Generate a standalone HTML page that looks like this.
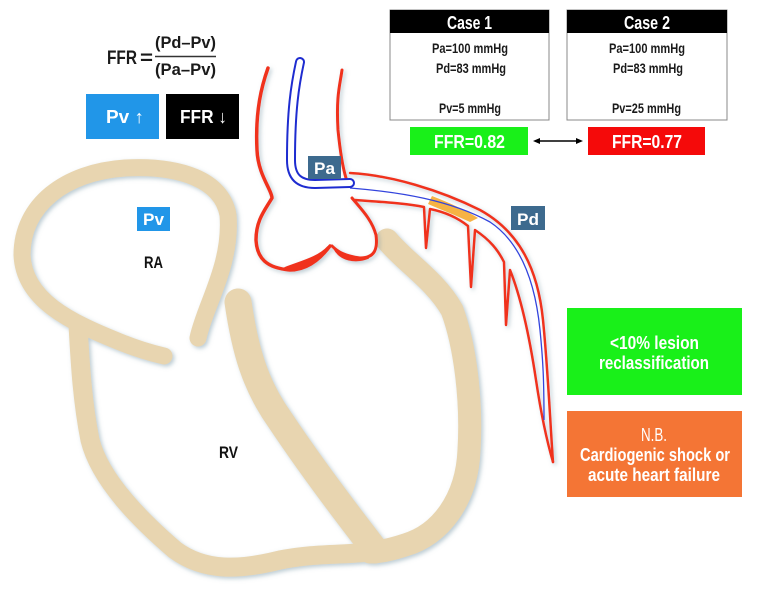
<!DOCTYPE html>
<html><head><meta charset="utf-8"><style>
html,body{margin:0;padding:0;background:#fff;}
svg{display:block;}
text{font-family:"Liberation Sans",sans-serif;font-weight:bold;}
</style></head><body>
<svg width="767" height="593" viewBox="0 0 767 593" xmlns="http://www.w3.org/2000/svg">
<defs>
<filter id="sh" x="-10%" y="-10%" width="120%" height="120%"><feDropShadow dx="2" dy="2" stdDeviation="2" flood-color="#7a9aa8" flood-opacity="0.5"/></filter>
</defs>
<g fill="none" stroke="#e8d5b0" stroke-linecap="round" filter="url(#sh)">
<path d="M198,338 C205,305 232,265 228,215 C222,180 180,165 125,168 C65,172 22,205 22,255 C24,300 70,322 120,342 C140,350 155,354 164,356" stroke-width="17"/>
<path d="M78,325 C80,360 82,400 90,440 C100,480 140,520 175,550 C205,572 240,570 280,560 C320,552 350,556 385,550" stroke-width="19"/>
<path d="M238,302 C245,350 255,385 280,420 C310,465 340,505 375,550" stroke-width="27"/>
<path d="M387,240 C405,262 435,280 452,310 C465,345 472,400 469,450 C467,500 440,535 405,545 C390,550 380,552 370,552" stroke-width="23"/>
</g>
<g fill="none" stroke="#f0321e" stroke-linecap="round" stroke-linejoin="round" filter="url(#sh)">
<path d="M268,68 C262,85 255,110 257,150 C258,175 272,190 272,198 C265,210 256,220 256,240 C257,258 266,268 290,270 C305,270 318,262 330,246" stroke-width="3.5"/>
<path d="M342,70 C340,85 336,95 338,130 C340,150 342,165 346,178" stroke-width="3"/>
<path d="M352,198 C362,210 372,220 376,235 C378,250 374,258 360,258 C345,256 338,252 332,246" stroke-width="3"/>
<path d="M285,268 C300,262 318,258 328,247 C320,262 305,268 290,270 Z" fill="#f0321e" stroke-width="2"/>
<path d="M334,248 C340,256 355,258 368,258 C355,263 340,260 334,248 Z" fill="#f0321e" stroke-width="2"/>
<path d="M350,173 C390,175 440,190 480,210 C520,232 538,270 543,320 C548,370 550,420 553,462" stroke-width="2.5"/>
<path d="M355,200 C380,202 405,203 424,207 L426,248 L430,209 C445,212 458,218 468,226 L471,287 L475,230 C490,240 498,250 504,262 L506,325 L510,270 C522,300 530,340 536,380 C542,420 548,445 553,462" stroke-width="2.5"/>
</g>
<path d="M432,196 C450,203 465,210 478,218 L470,222 C455,215 442,210 428,204 Z" fill="#f5a623" opacity="0.85"/>
<path d="M350,188 C400,192 450,200 490,222 C520,242 535,280 540,330 C543,360 544,380 544,420" fill="none" stroke="#3344dd" stroke-width="1.3"/>
<path d="M300,62 C295,85 291,110 291,160 C291,178 300,184 315,184 L350,183" fill="none" stroke="#1e2cd0" stroke-width="10" stroke-linecap="round"/>
<path d="M300,62 C295,85 291,110 291,160 C291,178 300,184 315,184 L350,183" fill="none" stroke="#fff" stroke-width="6" stroke-linecap="round"/>
<text x="107" y="64" font-size="19" fill="#1a1a1a" textLength="30" lengthAdjust="spacingAndGlyphs">FFR</text>
<text x="140" y="64" font-size="19" fill="#1a1a1a" textLength="13" lengthAdjust="spacingAndGlyphs">=</text>
<text x="155" y="48" font-size="17" fill="#1a1a1a" textLength="61" lengthAdjust="spacingAndGlyphs">(Pd–Pv)</text>
<line x1="155" y1="56.5" x2="216" y2="56.5" stroke="#333" stroke-width="1.5"/>
<text x="155" y="75" font-size="17" fill="#1a1a1a" textLength="61" lengthAdjust="spacingAndGlyphs">(Pa–Pv)</text>
<rect x="86" y="94" width="73" height="45" fill="#2196e8"/>
<text x="106" y="123" font-size="18" fill="#fff" textLength="38" lengthAdjust="spacingAndGlyphs">Pv ↑</text>
<rect x="166" y="94" width="73" height="45" fill="#000"/>
<text x="180" y="123" font-size="18" fill="#fff" textLength="47" lengthAdjust="spacingAndGlyphs">FFR ↓</text>
<rect x="390" y="10" width="159" height="110" fill="#fff" stroke="#888"/>
<rect x="390" y="10" width="159" height="23" fill="#000"/>
<text x="447" y="29" font-size="18" fill="#fff" textLength="45" lengthAdjust="spacingAndGlyphs">Case 1</text>
<text x="432" y="53" font-size="14" fill="#1a1a1a" textLength="76" lengthAdjust="spacingAndGlyphs">Pa=100 mmHg</text>
<text x="436" y="73" font-size="14" fill="#1a1a1a" textLength="70" lengthAdjust="spacingAndGlyphs">Pd=83 mmHg</text>
<text x="439" y="113" font-size="14" fill="#1a1a1a" textLength="62" lengthAdjust="spacingAndGlyphs">Pv=5 mmHg</text>
<rect x="567" y="10" width="160" height="110" fill="#fff" stroke="#888"/>
<rect x="567" y="10" width="160" height="23" fill="#000"/>
<text x="624" y="29" font-size="18" fill="#fff" textLength="46" lengthAdjust="spacingAndGlyphs">Case 2</text>
<text x="609" y="53" font-size="14" fill="#1a1a1a" textLength="76" lengthAdjust="spacingAndGlyphs">Pa=100 mmHg</text>
<text x="613" y="73" font-size="14" fill="#1a1a1a" textLength="70" lengthAdjust="spacingAndGlyphs">Pd=83 mmHg</text>
<text x="612" y="113" font-size="14" fill="#1a1a1a" textLength="69" lengthAdjust="spacingAndGlyphs">Pv=25 mmHg</text>
<rect x="410" y="127" width="118" height="28" fill="#19f019"/>
<text x="434" y="148" font-size="18" fill="#fff" textLength="71" lengthAdjust="spacingAndGlyphs">FFR=0.82</text>
<rect x="588" y="127" width="117" height="28" fill="#f50a0a"/>
<text x="612" y="148" font-size="18" fill="#fff" textLength="70" lengthAdjust="spacingAndGlyphs">FFR=0.77</text>
<line x1="538" y1="141" x2="578" y2="141" stroke="#000" stroke-width="1.5"/>
<path d="M533,141 L540,138 L540,144 Z M583,141 L576,138 L576,144 Z" fill="#000"/>
<rect x="308" y="156" width="33" height="23" fill="#3d6a8e"/>
<text x="314" y="174" font-size="17" fill="#fff" textLength="21" lengthAdjust="spacingAndGlyphs">Pa</text>
<rect x="511" y="206" width="34" height="24" fill="#3d6a8e"/>
<text x="517" y="225" font-size="17" fill="#fff" textLength="22" lengthAdjust="spacingAndGlyphs">Pd</text>
<rect x="137" y="207" width="33" height="24" fill="#2196e8"/>
<text x="143" y="225" font-size="17" fill="#fff" textLength="21" lengthAdjust="spacingAndGlyphs">Pv</text>
<text x="144" y="268" font-size="17" fill="#111" textLength="19" lengthAdjust="spacingAndGlyphs">RA</text>
<text x="219" y="458" font-size="17" fill="#111" textLength="19" lengthAdjust="spacingAndGlyphs">RV</text>
<rect x="567" y="308" width="175" height="87" fill="#19f019"/>
<text x="610" y="349" font-size="18" fill="#fff" textLength="89" lengthAdjust="spacingAndGlyphs">&lt;10% lesion</text>
<text x="599" y="369" font-size="18" fill="#fff" textLength="110" lengthAdjust="spacingAndGlyphs">reclassification</text>
<rect x="567" y="411" width="175" height="86" fill="#f47535"/>
<text x="641" y="441" font-size="18" fill="#fff" style="font-weight:normal" textLength="26" lengthAdjust="spacingAndGlyphs">N.B.</text>
<text x="580" y="461" font-size="18" fill="#fff" textLength="150" lengthAdjust="spacingAndGlyphs">Cardiogenic shock or</text>
<text x="588" y="481" font-size="18" fill="#fff" textLength="132" lengthAdjust="spacingAndGlyphs">acute heart failure</text>
</svg>
</body></html>
